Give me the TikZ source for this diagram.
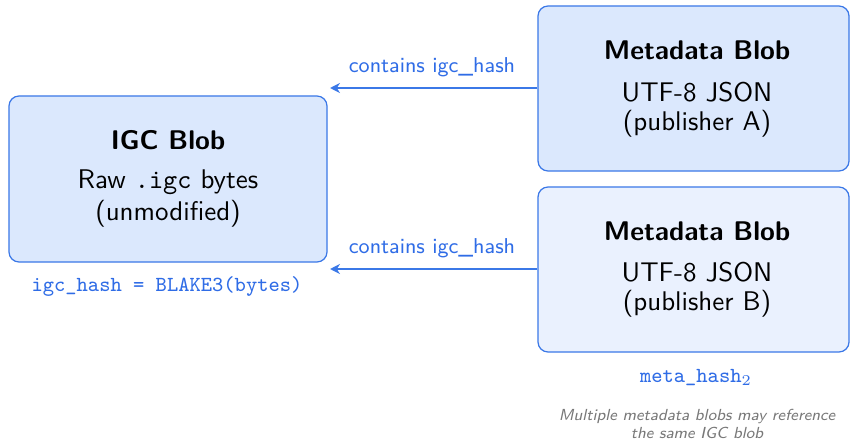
\documentclass[tikz,border=0pt]{standalone}
\usetikzlibrary{arrows.meta}
\definecolor{edgeblue}{RGB}{59,120,231}
\definecolor{inkblue}{RGB}{47,108,230}
\definecolor{fillA}{RGB}{219,232,253}
\definecolor{fillB}{RGB}{234,241,254}
\definecolor{notegray}{RGB}{120,120,120}
\tikzset{
  blob/.style={draw=edgeblue, line width=0.5pt, rounded corners=4pt, inner sep=0pt},
  titletext/.style={font=\fontsize{10.8}{13}\selectfont\sffamily\bfseries, inner sep=0pt},
  bodytext/.style={font=\fontsize{10.8}{13}\selectfont\sffamily, inner sep=0pt},
  edgelabel/.style={font=\fontsize{8.6}{10}\selectfont\sffamily, text=inkblue, inner sep=0pt},
  hashlabel/.style={font=\fontsize{8.6}{10}\selectfont\ttfamily, text=inkblue, inner sep=0pt},
  notetext/.style={font=\fontsize{6.4}{7.4}\selectfont\sffamily\itshape, text=notegray, align=center, inner sep=0pt},
  refarrow/.style={draw=edgeblue, line width=0.7pt, -{Stealth[length=4pt,width=4pt]}}
}
\begin{document}
\begin{tikzpicture}[x=0.4pt, y=-0.4pt]
  \useasboundingbox (0,0) rectangle (850,445);

  % blobs
  \node[blob, fill=fillA, minimum width=127.2pt, minimum height=66.4pt] (igc) at (168,179) {};
  \node[blob, fill=fillA, minimum width=124.4pt, minimum height=66pt] (metaA) at (693.5,88.5) {};
  \node[blob, fill=fillB, minimum width=124.4pt, minimum height=66pt] (metaB) at (693.5,269.5) {};

  % IGC blob text
  \node[titletext] (igcT) at (168,140) {IGC Blob};
  \node[bodytext] (igcL1) at (168,182) {Raw {\ttfamily .igc} bytes};
  \node[bodytext] (igcL2) at (168,214) {(unmodified)};

  % metadata blob A text
  \node[titletext] (aT) at (697,50) {Metadata Blob};
  \node[bodytext] (aL1) at (697,92) {UTF-8 JSON};
  \node[bodytext] (aL2) at (697,124) {(publisher A)};

  % metadata blob B text
  \node[titletext] (bT) at (697,231) {Metadata Blob};
  \node[bodytext] (bL1) at (697,272) {UTF-8 JSON};
  \node[bodytext] (bL2) at (697,304) {(publisher B)};

  % references from metadata to the IGC blob
  \coordinate (aEnd) at (330,88);
  \coordinate (bEnd) at (330,269);
  \draw[refarrow] (metaA.west |- aEnd) -- (aEnd);
  \draw[refarrow] (metaB.west |- bEnd) -- (bEnd);
  \node[edgelabel] (aLab) at (432,67) {contains igc\_hash};
  \node[edgelabel] (bLab) at (432,248) {contains igc\_hash};

  % hash annotations
  \node[hashlabel] (igcHash) at (167,286) {igc\_hash = BLAKE3(bytes)};
  \node[hashlabel] (metaHash) at (696,378) {meta\_hash$_2$};

  % note
  \node[notetext] (note) at (697,424) {Multiple metadata blobs may reference\\the same IGC blob};
\end{tikzpicture}
\end{document}
